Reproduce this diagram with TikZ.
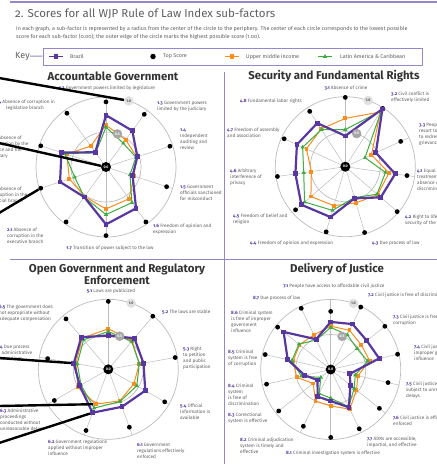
\documentclass[tikz,border=0pt]{standalone}
\usepackage{fontspec}
\setmainfont{Fira Sans}[Numbers=OldStyle]
\newfontfamily\numfont{Fira Sans}
\usetikzlibrary{shapes.geometric}

\definecolor{wjppurple}{RGB}{88,56,160}
\definecolor{rulepurple}{RGB}{150,134,204}
\definecolor{umorange}{RGB}{247,142,30}
\definecolor{lagreen}{RGB}{62,172,64}
\definecolor{txtgray}{RGB}{95,95,95}
\definecolor{ringgray}{RGB}{188,188,188}

\tikzstyle{ring} = [ringgray, line width=0.7pt]
\tikzstyle{spoke} = [ringgray, line width=0.5pt]
\tikzstyle{topdot} = [circle, fill=black, inner sep=0pt, minimum size=4.8pt]
\tikzstyle{brline} = [wjppurple, line width=2.2pt, line join=round]
\tikzstyle{brmark} = [rectangle, fill=wjppurple, inner sep=0pt, minimum size=4.8pt]
\tikzstyle{umline} = [umorange, line width=1pt, line join=round]
\tikzstyle{ummark} = [rectangle, fill=umorange, inner sep=0pt, minimum size=3.9pt]
\tikzstyle{laline} = [lagreen, line width=1pt, line join=round]
\tikzstyle{lamark} = [regular polygon, regular polygon sides=3, fill=lagreen,
inner sep=0pt, minimum size=5pt]
\tikzstyle{zerolbl} = [circle, fill=black, text=white, inner sep=0pt,
minimum size=10pt, font=\numfont\bfseries\fontsize{3.6}{4}\selectfont]
\tikzstyle{halflbl} = [circle, fill=black!35, text=white, inner sep=0pt,
minimum size=9.5pt, font=\numfont\bfseries\fontsize{3.6}{4}\selectfont]
\tikzstyle{onelbl} = [circle, fill=black!12, text=black!70, inner sep=0pt,
minimum size=9.5pt, font=\numfont\bfseries\fontsize{3.6}{4}\selectfont]
\tikzstyle{sublbl} = [inner sep=0pt, align=left, text=txtgray,
font=\fontsize{4.7}{6}\selectfont]
\tikzstyle{charttitle} = [inner sep=0pt, align=center, text=black!80,
font=\bfseries\fontsize{11.4}{10.5}\selectfont]
\tikzstyle{keytxt} = [inner sep=0pt, anchor=west, text=txtgray,
font=\fontsize{5.4}{6}\selectfont]
\tikzstyle{callout} = [line width=2.4pt, black]
\tikzstyle{rule} = [rulepurple, line width=1pt]

\newcommand{\nr}[1]{{\color{wjppurple}\bfseries #1}}

% name, x, y, spokes, top score, Brazil, upper middle, Latin America
\newcommand{\radar}[8]{%
\begin{scope}[shift={(#2,#3)}]
\pgfmathtruncatemacro{\nlast}{#4-1}
\draw[ring] (0,0) circle [radius=70pt];
\draw[ring] (0,0) circle [radius=35pt];
\foreach \i in {0,...,\nlast}
  \draw[spoke] (0,0) -- ({70*sin(\i*360/#4)},{-70*cos(\i*360/#4)});
\foreach \v [count=\i from 0] in {#5}
  \node[topdot] (#1t\i) at ({\v*70*sin(\i*360/#4)},{-\v*70*cos(\i*360/#4)}) {};
\foreach \v [count=\i from 0] in {#6}
  \coordinate (#1b\i) at ({\v*70*sin(\i*360/#4)},{-\v*70*cos(\i*360/#4)});
\foreach \v [count=\i from 0] in {#7}
  \coordinate (#1u\i) at ({\v*70*sin(\i*360/#4)},{-\v*70*cos(\i*360/#4)});
\foreach \v [count=\i from 0] in {#8}
  \coordinate (#1l\i) at ({\v*70*sin(\i*360/#4)},{-\v*70*cos(\i*360/#4)});
\draw[umline] (#1u0) \foreach \i in {1,...,\nlast} { -- (#1u\i) } -- cycle;
\foreach \i in {0,...,\nlast} \node[ummark] (#1um\i) at (#1u\i) {};
\draw[laline] (#1l0) \foreach \i in {1,...,\nlast} { -- (#1l\i) } -- cycle;
\foreach \i in {0,...,\nlast} \node[lamark] (#1lm\i) at (#1l\i) {};
\draw[brline] (#1b0) \foreach \i in {1,...,\nlast} { -- (#1b\i) } -- cycle;
\foreach \i in {0,...,\nlast} \node[brmark] (#1bm\i) at (#1b\i) {};
\node[zerolbl] (#1c) at (0,0) {0.0};
\node[halflbl] (#1half) at ({35*sin(19)},{-35*cos(19)}) {0.5};
\node[onelbl] (#1one) at ({70*sin(19)},{-70*cos(19)}) {1.0};
\end{scope}}

\begin{document}
\begin{tikzpicture}[x=1pt, y=-1pt]
\useasboundingbox (0,0) rectangle (437,464);
\clip (0,0) rectangle (437,464);

% header
\draw[rule, line width=1.5pt] (10,2) -- (437,2);
\node (title) [anchor=west, inner sep=0pt, text=txtgray,
  font=\fontsize{11.5}{12}\selectfont] at (15,14)
  {2. Scores for all WJP Rule of Law Index sub-factors};
\node (intro) [anchor=west, inner sep=0pt, align=left, text=txtgray,
  font=\fontsize{5.4}{8}\selectfont] at (16,33)
  {In each graph, a sub-factor is represented by a radius from the center of the circle to the periphery. The center of each circle corresponds to the lowest possible\\
   score for each sub-factor (0.00); the outer edge of the circle marks the highest possible score (1.00).};

% key
\node (key) [anchor=west, inner sep=0pt, text=txtgray,
  font=\fontsize{9}{10}\selectfont] at (15,56) {Key};
\node (keybox) [draw=rulepurple, line width=1pt, minimum width=379pt,
  minimum height=17pt] at (232.5,56.5) {};
\draw[rule] (key) -- (keybox);
\coordinate (kb1) at (49,56.5); \coordinate (kb2) at (63,56.5);
\draw[brline, line width=1.3pt] (kb1) -- (kb2);
\node (kbr) [brmark] at (56,56.5) {};
\node (kbrt) [keytxt] at (70,56.5) {Brazil};
\node (kts) [topdot, minimum size=5.5pt] at (153,56.5) {};
\node (ktst) [keytxt] at (163,56.5) {Top Score};
\coordinate (ku1) at (225,56.5); \coordinate (ku2) at (239,56.5);
\draw[umline, line width=1.3pt] (ku1) -- (ku2);
\node (kum) [ummark, minimum size=4.4pt] at (232,56.5) {};
\node (kumt) [keytxt] at (246,56.5) {Upper middle income};
\coordinate (kl1) at (318,56.5); \coordinate (kl2) at (332,56.5);
\draw[laline, line width=1.3pt] (kl1) -- (kl2);
\node (kla) [lamark] at (325,56.5) {};
\node (klat) [keytxt] at (340,56.5) {Latin America \& Caribbean};

% panel rules
\draw[rule] (10,259) -- (437,259);
\draw[rule] (224,72) -- (224,464);

% Accountable Government
\node (agtitle) [charttitle] at (113,76) {Accountable Government};
\radar{ag}{106}{167}{10}
  {0.93,0.93,0.96,0.91,0.97,0.98,0.97,0.98,0.98,0.95}
  {0.74,0.64,0.47,0.40,0.73,0.82,0.53,0.69,0.67,0.26}
  {0.60,0.48,0.46,0.42,0.56,0.60,0.52,0.55,0.59,0.37}
  {0.57,0.42,0.45,0.36,0.63,0.68,0.53,0.47,0.62,0.25}
\node (s12) [sublbl] at (107,88) {\nr{1.2} Government powers limited by legislature};
\node (s13) [sublbl, anchor=west] at (157,106) {\nr{1.3} Government powers\\limited by the judiciary};
\node (s14) [sublbl, anchor=west] at (180,139) {\nr{1.4}\\Independent\\auditing and\\review};
\node (s15) [sublbl, anchor=west] at (180,193) {\nr{1.5} Government\\officials sanctioned\\for misconduct};
\node (s16) [sublbl, anchor=west] at (153,229) {\nr{1.6} Freedom of opinion and\\expression};
\node (s17) [sublbl] at (110,248) {\nr{1.7} Transition of power subject to the law};
\node (s21) [sublbl, anchor=west] at (7,236) {\nr{2.1} Absence of\\corruption in the\\executive branch};
\node (s22) [sublbl, anchor=west] at (-9,195) {\nr{2.2} Absence of\\corruption in the\\judicial branch};
\node (s23) [sublbl, anchor=west] at (-9,147) {\nr{2.3} Absence of\\corruption by the\\police and the\\military};
\node (s24) [sublbl, align=center] at (25,105) {\nr{2.4} Absence of corruption in\\legislative branch};

% Security and Fundamental Rights
\node (sftitle) [charttitle] at (334,76) {Security and Fundamental Rights};
\radar{sf}{345.3}{166.7}{11}
  {0.99,0.99,0.87,0.89,0.98,0.98,0.97,0.94,0.98,0.96,0.94}
  {0.44,0.98,0.48,0.72,0.67,0.47,0.75,0.83,0.72,0.76,0.74}
  {0.69,0.93,0.41,0.63,0.61,0.54,0.58,0.65,0.49,0.61,0.64}
  {0.53,0.95,0.31,0.58,0.60,0.46,0.65,0.77,0.60,0.67,0.63}
\node (s31) [sublbl] at (346,88) {\nr{3.1} Absence of crime};
\node (s32) [sublbl, anchor=west] at (391,97) {\nr{3.2} Civil conflict is\\effectively limited};
\node (s33) [sublbl, anchor=west] at (419,134) {\nr{3.3} People do not\\resort to violence\\to redress personal\\grievances};
\node (s41) [sublbl, anchor=west] at (417,180) {\nr{4.1} Equal\\treatment and\\absence of\\discrimination};
\node (s42) [sublbl, anchor=west] at (405,220) {\nr{4.2} Right to life and\\security of the person};
\node (s43) [sublbl, anchor=west] at (372,243) {\nr{4.3} Due process of law};
\node (s44) [sublbl, anchor=west] at (250,243) {\nr{4.4} Freedom of opinion and expression};
\node (s45) [sublbl, anchor=west] at (233,219) {\nr{4.5} Freedom of belief and\\religion};
\node (s46) [sublbl, anchor=west] at (230,177) {\nr{4.6} Arbitrary\\interference of\\privacy};
\node (s47) [sublbl, anchor=west] at (227,133) {\nr{4.7} Freedom of assembly\\and association};
\node (s48) [sublbl, anchor=west] at (240,101) {\nr{4.8} Fundamental labor rights};

% Open Government and Regulatory Enforcement
\node (ogtitle) [charttitle] at (117,274) {Open Government and Regulatory\\Enforcement};
\radar{og}{108.3}{369.3}{9}
  {0.97,0.99,0.97,0.93,0.88,0.93,0.89,0.88,0.94}
  {0.48,0.58,0.51,0.61,0.57,0.66,0.47,0.50,0.60}
  {0.58,0.53,0.45,0.42,0.48,0.53,0.50,0.47,0.58}
  {0.54,0.52,0.45,0.47,0.49,0.59,0.45,0.45,0.55}
\node (s51) [sublbl] at (111,291) {\nr{5.1} Laws are publicized};
\node (s52) [sublbl, anchor=west] at (162,312) {\nr{5.2} The laws are stable};
\node (s53) [sublbl, anchor=west] at (183,358) {\nr{5.3} Right\\to petition\\and public\\participation};
\node (s54) [sublbl, anchor=west] at (180,412) {\nr{5.4} Official\\information is\\available};
\node (s61) [sublbl, anchor=west] at (137,451) {\nr{6.1} Government\\regulations effectively\\enforced};
\node (s62) [sublbl, anchor=west] at (48,448) {\nr{6.2} Government regulations\\applied without improper\\influence};
\node (s63) [sublbl, anchor=west] at (0,420) {\nr{6.3} Administrative\\proceedings\\conducted without\\unreasonable delay};
\node (s64) [sublbl, anchor=west] at (-4,353) {\nr{6.4} Due process\\in administrative\\proceedings};
\node (s65) [sublbl, anchor=west] at (-1,313) {\nr{6.5} The government does\\not expropriate without\\adequate compensation};

% Delivery of Justice
\node (djtitle) [charttitle] at (337,269) {Delivery of Justice};
\radar{dj}{330.7}{369.5}{14}
  {0.83,0.99,0.99,0.98,0.84,0.89,0.94,0.97,0.90,0.95,0.94,0.96,0.97,0.97}
  {0.68,0.72,0.66,0.71,0.28,0.36,0.60,0.45,0.43,0.24,0.38,0.63,0.86,0.48}
  {0.62,0.62,0.56,0.57,0.40,0.47,0.63,0.52,0.50,0.32,0.50,0.55,0.57,0.55}
  {0.60,0.55,0.48,0.54,0.36,0.43,0.59,0.41,0.38,0.18,0.43,0.57,0.58,0.47}
\node (s71) [sublbl] at (334,286) {\nr{7.1} People have access to affordable civil justice};
\node (s72) [sublbl, anchor=west] at (368,295) {\nr{7.2} Civil justice is free of discrimination};
\node (s73) [sublbl, anchor=west] at (393,320.5) {\nr{7.3} Civil justice is free of\\corruption};
\node (s74) [sublbl, anchor=west] at (414,353) {\nr{7.4} Civil justice is free of\\improper government\\influence};
\node (s75) [sublbl, anchor=west] at (406,390.5) {\nr{7.5} Civil justice is not\\subject to unreasonable\\delays};
\node (s76) [sublbl, anchor=west] at (393,421) {\nr{7.6} Civil justice is effectively\\enforced};
\node (s77) [sublbl, anchor=west] at (367,442) {\nr{7.7} ADRs are accessible,\\impartial, and effective};
\node (s81) [sublbl] at (333,453) {\nr{8.1} Criminal investigation system is effective};
\node (s82) [sublbl, anchor=west] at (240,445.5) {\nr{8.2} Criminal adjudication\\system is timely and\\effective};
\node (s83) [sublbl, anchor=west] at (228,418) {\nr{8.3} Correctional\\system is effective};
\node (s84) [sublbl, anchor=west] at (228,394.5) {\nr{8.4} Criminal\\system\\is free of\\discrimination};
\node (s85) [sublbl, anchor=west] at (228,358.5) {\nr{8.5} Criminal\\system is free\\of corruption};
\node (s86) [sublbl, anchor=west] at (231,321.5) {\nr{8.6} Criminal system\\is free of improper\\government\\influence};
\node (s87) [sublbl, anchor=west] at (253,298) {\nr{8.7} Due process of law};

% callout lines coming in from the left
\coordinate (in1) at (-1,78);
\coordinate (in2) at (-1,143);
\coordinate (in3) at (-1,213);
\coordinate (in4) at (-1,358);
\coordinate (in5) at (-1,406);
\coordinate (in6) at (-1,443);
\draw[callout] (in1) -- (agone);
\draw[callout] (in2) -- (agc);
\draw[callout] (in3) -- (agt7);
\draw[callout] (in4) -- (ogbm7);
\draw[callout] (in5) -- (ogum5);
\draw[callout] (in6) -- (ogbm5);

\end{tikzpicture}
\end{document}
